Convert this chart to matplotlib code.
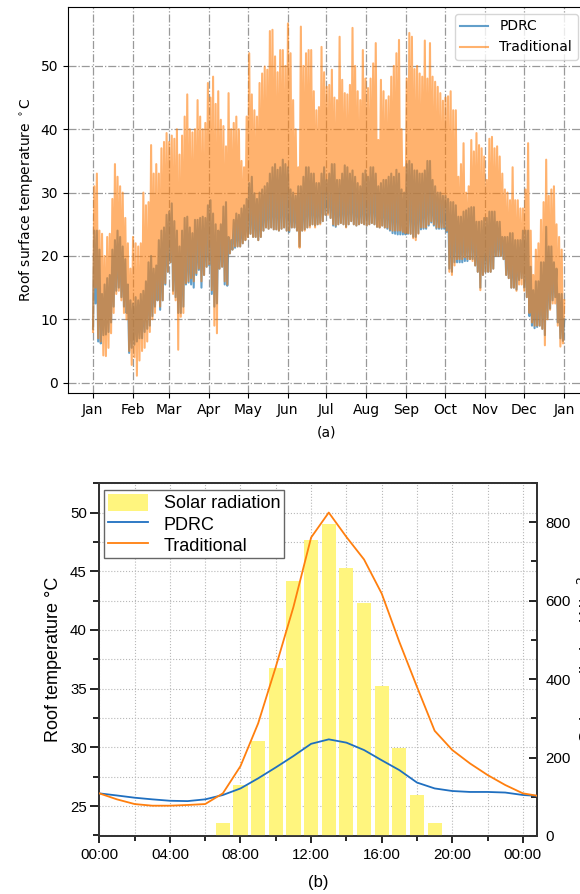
import numpy as np
import matplotlib
matplotlib.use('Agg')
import matplotlib.pyplot as plt
import matplotlib.dates as mdates
from matplotlib.ticker import MultipleLocator
from matplotlib.patches import Patch
from matplotlib.lines import Line2D

plt.rcParams['font.family'] = 'DejaVu Sans'
plt.rcParams['font.size'] = 10

# ---------------------------------------------------------------
# (a) roof surface temperature over 2019, daily high / low envelope
#     sampled every two days (deg C)
# ---------------------------------------------------------------
trad_high = [31, 33, 24, 23.5, 20, 23, 23.5, 29, 34.5, 32.5,
             31, 30, 26, 22, 18, 23, 22, 21.5, 22, 30,
             28, 28.5, 37.5, 33, 34.5, 33, 37, 38, 39.4, 38,
             39, 38.5, 40, 36, 39, 42, 45.5, 40, 39.5, 40,
             44.6, 42, 40, 41, 47.3, 45, 48.3, 44, 46, 41.5,
             40.5, 37.3, 45.7, 40, 41, 42, 40, 35, 34, 42,
             52, 45.5, 43, 42, 47.3, 48.8, 49.9, 49.4, 55.5, 55.7,
             51.5, 49, 52.5, 52.5, 50, 56.7, 52, 44.6, 40, 34,
             56.2, 50, 52, 52.5, 52.5, 46, 43, 43.5, 53, 49,
             46.7, 47, 49.4, 45, 44.6, 54.6, 47.8, 45.7, 45.5, 47,
             56, 50, 46, 44.6, 52.5, 48, 46.5, 48, 50.4, 53.6,
             38.3, 47.8, 46, 44.6, 45.2, 48.3, 50, 52, 54.1, 40,
             34, 48, 55.2, 54.6, 49.5, 50, 48.8, 48.3, 54, 48,
             53.6, 48.3, 47.5, 46.7, 45.7, 44.5, 45, 45.2, 46, 43,
             43, 32.5, 34.5, 37.8, 30, 31, 38.3, 36.5, 39.4, 37.5,
             37, 35.7, 32, 38.5, 38.8, 37, 37.3, 35.7, 33, 30.5,
             30, 28.8, 34, 28.8, 28.8, 27.5, 27.5, 30.5, 37.8, 24,
             17, 21, 22, 25.7, 28.5, 35.2, 29.5, 30.5, 31, 25,
             23, 21, 13]
trad_low = [8, 15, 7, 6.5, 4.3, 4.2, 5.5, 7.8, 11, 14,
            14.5, 13, 11, 10, 5, 2.8, 4, 1.1, 3.5, 5,
            5.5, 6.5, 8, 10, 11, 13, 12, 13, 15.7, 17.5,
            19, 14, 13, 5.2, 10.4, 11, 15.7, 16, 16.5, 16,
            17.3, 18, 16, 17, 18.3, 18.7, 14.6, 9, 7.8, 18,
            18.3, 16, 15.5, 20.4, 21, 21.5, 21.5, 21.5, 22, 22.5,
            23, 23.5, 23, 23, 22.5, 23, 24, 24.5, 24.3, 24.5,
            24.2, 24.2, 24, 24.3, 24.5, 24, 24, 24.5, 24.5, 24,
            21.3, 24, 24, 24.5, 24.5, 25, 24.5, 25, 25, 25.5,
            26.5, 26.5, 26, 25, 24.8, 25, 25.2, 25, 24.5, 25,
            25.5, 25, 24.8, 25, 25.2, 25, 24.8, 25, 25.2, 25,
            24.6, 24.5, 24.8, 24.5, 24.5, 24.2, 24, 24, 24, 24,
            23.8, 23.6, 23.6, 23.5, 22.8, 22.5, 23.5, 24.5, 24.5, 24.5,
            25, 25.5, 25, 24.5, 24.5, 24.5, 24.5, 24, 17.5, 17,
            18.5, 19.5, 19.5, 19.5, 19.8, 19.5, 19.5, 19.2, 18.5, 17.5,
            14.6, 17, 17.5, 17.5, 17.5, 18, 20, 20, 20, 19.5,
            17, 16.5, 15, 15, 14.5, 15.5, 15.5, 14.5, 13.5, 11,
            9.5, 9, 9, 9, 8.5, 5.9, 10, 11.5, 12.5, 12.5,
            9, 5.7, 6.2]
pdrc_high = [24, 24, 21, 14, 15.5, 16.5, 17, 21, 22.5, 24,
             23, 21.5, 19.5, 15.5, 13, 12.5, 13.5, 13, 14, 14.5,
             16, 19, 20, 18, 18.5, 22.5, 24, 24.5, 26.5, 27,
             28.3, 25.5, 24, 21.5, 24, 26, 26.2, 24.5, 23.6, 25.7,
             25.7, 26, 26.2, 26, 28, 28.8, 26.7, 25, 24, 25,
             27.8, 28.5, 23, 22.5, 25.7, 26.7, 26.5, 27.5, 28, 29,
             31.5, 32.5, 29.9, 29, 30, 30.5, 31, 31.5, 33, 34,
             34.5, 33.6, 34, 35.2, 34.5, 34, 30.5, 30, 29.5, 31,
             31, 32.5, 34, 34, 33, 33, 31.5, 31.5, 33, 34,
             32, 33, 34.5, 34.5, 32, 32, 33, 34.3, 34, 33,
             33.5, 32.5, 31.5, 31, 33, 33.5, 32.5, 34, 34, 33,
             31, 31.5, 32, 32, 32.5, 33, 32.5, 33.6, 33, 30.5,
             30, 34.5, 35, 34.5, 33.5, 33.5, 33, 33, 33.5, 35,
             35, 32, 31, 30, 30, 29.5, 29.5, 29, 28.5, 28.5,
             28, 26.2, 26.2, 27, 27.2, 27.5, 27.7, 27.7, 25.4, 25.4,
             25.5, 26, 26, 27, 27, 27, 25.4, 25.4, 23, 23,
             23, 23.6, 23.6, 22.5, 22.5, 22.5, 24, 24, 24, 18.3,
             14.6, 16, 16, 19, 19, 24.6, 21.5, 21.5, 19, 18,
             14, 14, 10]
pdrc_low = [8.5, 12.5, 6.5, 6.2, 7.5, 7.6, 8, 9.5, 12, 14.5,
            15, 13.5, 12, 11, 4.7, 5.5, 6, 6.5, 7, 7,
            8, 8.5, 9, 10.5, 12, 13, 11.5, 13, 15.5, 17.5,
            19, 14.5, 13.5, 11, 11, 12, 15.5, 15.8, 15.5, 15,
            17, 17.8, 15, 17, 18.3, 18.5, 14, 12, 12.5, 18,
            18.3, 15.5, 15.3, 20.4, 21, 21.3, 21.5, 21.5, 22, 22.5,
            23, 23.5, 23, 23, 22.5, 23, 24, 24.5, 24.3, 24.5,
            24.2, 24.2, 24, 24.3, 24.5, 24, 23.8, 24.5, 24.5, 24,
            21.5, 24, 24.2, 24.5, 24.8, 25, 24.8, 25, 25.2, 25.5,
            26.5, 26.8, 26, 24.8, 24.6, 25, 25.2, 25, 24.6, 25,
            25.5, 25, 24.8, 25, 25.2, 25, 24.8, 25, 25.2, 25,
            24.6, 24.5, 24.8, 24.5, 24.3, 24, 23.6, 23.5, 23.4, 23.4,
            23.4, 23.4, 23.5, 23.5, 23, 23, 23.6, 24.2, 24.3, 24.3,
            24.8, 25.3, 24.8, 24.3, 24.3, 24.3, 24.3, 23.8, 18, 17.5,
            19, 19, 19, 19, 19.2, 19.2, 19.5, 19.5, 18.5, 17.5,
            15, 17, 17.5, 17.5, 17.5, 18, 20, 20, 20, 19.5,
            17, 16.5, 15, 15, 14.7, 16.2, 16.5, 15, 13.5, 10.5,
            9, 8.6, 8.8, 9, 8.5, 7.5, 10.2, 11.7, 13, 13.5,
            9.5, 7, 6.6]

# ---------------------------------------------------------------
# (b) typical summer day, hourly values
# ---------------------------------------------------------------
hours = np.arange(26)
pdrc_day = [26.08, 25.9, 25.71, 25.57, 25.45, 25.42, 25.57, 25.94, 26.5, 27.36,
            28.29, 29.26, 30.3, 30.68, 30.4, 29.77, 28.9, 28.06, 27.0, 26.5,
            26.28, 26.2, 26.2, 26.15, 25.94, 25.85]
trad_day = [26.08, 25.57, 25.17, 25.03, 25.03, 25.09, 25.17, 26.08, 28.4, 32.04,
            36.86, 41.96, 47.87, 50.0, 47.92, 46.0, 43.1, 38.98, 35.15, 31.41,
            29.77, 28.63, 27.64, 26.79, 26.08, 25.83]
solar_hours = np.arange(7, 20)
solar_rad = [34, 129, 242, 427, 649, 755, 796, 683, 594, 383, 224, 105, 34]
hour_labels = ['00:00', '04:00', '08:00', '12:00', '16:00', '20:00', '00:00']


def zigzag(lo, hi):
    # daily low in the morning, high in the afternoon, one pair per bin
    return np.column_stack([lo, hi]).ravel()


fig = plt.figure(figsize=(5.8, 8.94), dpi=100)

# ------------------------- panel (a) ---------------------------
start = mdates.date2num(np.datetime64('2019-01-01'))
nbin = len(trad_high)
k = 2 * np.arange(nbin)
t = start + np.column_stack([k + 0.25, k + 1.25]).ravel()

ax = fig.add_axes([0.1172, 0.5604, 0.8905, 0.4318])
ax.plot(t, zigzag(pdrc_low, pdrc_high), color='C0', alpha=0.7, lw=1.5,
        label='PDRC')
ax.plot(t, zigzag(trad_low, trad_high), color='C1', alpha=0.6, lw=1.5,
        label='Traditional')

ax.xaxis.set_major_locator(mdates.MonthLocator())
ax.xaxis.set_major_formatter(mdates.DateFormatter('%b'))
ax.set_xlim(start - 19.13, start + 380.9)
ax.set_ylim(-1.63, 59.3)
ax.set_yticks([0, 10, 20, 30, 40, 50])
ax.grid(True, ls='-.', color='0.6', lw=0.9)
ax.set_ylabel('Roof surface temperature $^\\circ$C')
ax.set_xlabel('(a)', labelpad=6)
ax.legend(loc='upper right')

# ------------------------- panel (b) ---------------------------
sans = 'Liberation Sans'
bar_color = '#fff57e'

ax1 = fig.add_axes([0.1712, 0.0649, 0.7547, 0.3949])
ax2 = ax1.twinx()

# bars on the right axis, temperature lines drawn over them in
# left-axis coordinates so the grid stays underneath everything
ax2.bar(solar_hours, solar_rad, width=0.8, color=bar_color, zorder=1)
ax2.plot(hours, pdrc_day, color='#1f6fc0', lw=1.3, zorder=3,
         transform=ax1.transData)
ax2.plot(hours, trad_day, color='#ff7f0e', lw=1.3, zorder=3,
         transform=ax1.transData)

ax1.set_xlim(0, 24.8)
ax1.set_ylim(22.45, 52.52)
ax2.set_ylim(0, 900)

ax1.set_xticks(np.arange(0, 25, 4))
ax1.set_xticklabels(hour_labels)
ax1.xaxis.set_minor_locator(MultipleLocator(2))
ax1.yaxis.set_major_locator(MultipleLocator(5))
ax1.yaxis.set_minor_locator(MultipleLocator(2.5))
ax2.yaxis.set_major_locator(MultipleLocator(200))
ax2.yaxis.set_minor_locator(MultipleLocator(100))

ax1.grid(True, which='both', ls=':', color='0.72', lw=0.8)
ax1.set_axisbelow(True)

ax1.tick_params(axis='y', which='major', direction='out', length=6.5,
                width=1.2, pad=2.5, labelsize=10.8, labelfontfamily=sans)
ax1.tick_params(axis='y', which='minor', direction='out', length=4, width=1.2)
ax1.tick_params(axis='x', which='major', direction='out', length=5,
                width=1.2, pad=4, labelsize=10.8, labelfontfamily=sans)
ax1.tick_params(axis='x', which='minor', direction='out', length=3.5,
                width=1.2)
ax2.tick_params(axis='y', which='major', direction='in', length=5.5,
                width=1.2, pad=6, labelsize=10.8, labelfontfamily=sans)
ax2.tick_params(axis='y', which='minor', direction='in', length=4, width=1.2)

for a in (ax1, ax2):
    for sp in a.spines.values():
        sp.set_linewidth(1.3)
        sp.set_color('0.2')

ax1.set_ylabel('Roof temperature °C', fontsize=13, fontfamily=sans,
               labelpad=6)
ax2.set_ylabel('Solar radiation W/m$^2$', fontsize=13, fontfamily=sans,
               labelpad=5)

handles = [Patch(facecolor=bar_color, edgecolor='none'),
           Line2D([], [], color='#1f6fc0', lw=1.3),
           Line2D([], [], color='#ff7f0e', lw=1.3)]
leg = ax2.legend(handles, ['Solar radiation', 'PDRC', 'Traditional'],
                 loc='upper left', bbox_to_anchor=(0.0107, 0.980),
                 borderaxespad=0, fancybox=False, framealpha=1,
                 edgecolor='0.4', prop={'family': sans, 'size': 13},
                 handlelength=2.25, handleheight=1.1, handletextpad=0.85,
                 labelspacing=0.13, borderpad=0.2)
leg.get_frame().set_linewidth(1.0)
leg.set_zorder(5)

fig.text(318 / 580, 1 - 882 / 894, '(b)', ha='center', va='center',
         fontsize=12, fontfamily=sans)

fig.savefig('out.png', dpi=100, facecolor='white')
